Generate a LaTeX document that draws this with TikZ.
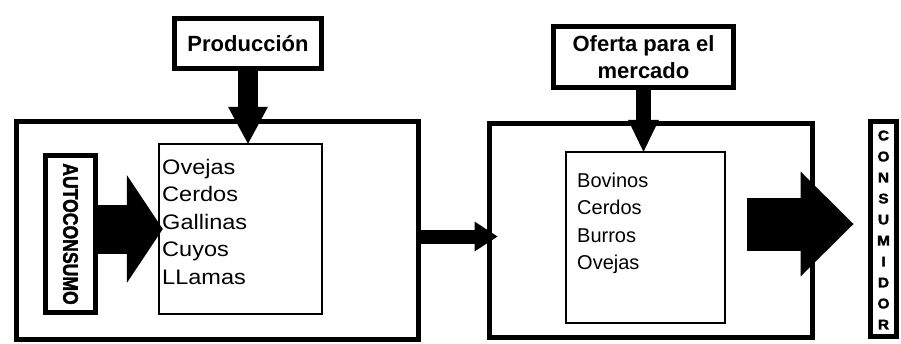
\documentclass[tikz,border=0pt]{standalone}
\usepackage{fontspec}
\setmainfont{Liberation Sans}
\newfontfamily\heavyfont[BoldFeatures={FakeBold=2}]{Liberation Sans}
\usetikzlibrary{arrows.meta, positioning, calc}

\begin{document}
\begin{tikzpicture}[x=1pt, y=-1pt,
    frame/.style={draw, line width=5pt, inner sep=0pt, outer sep=0pt},
    listbox/.style={draw, line width=1.6pt, inner sep=0pt, outer sep=0pt},
    item/.style={anchor=base west, inner sep=0pt, font=\fontsize{21}{25}\selectfont},
    title/.style={font=\fontsize{22}{27}\selectfont\bfseries, align=center, inner sep=0pt},
    stack/.style={font=\heavyfont\bfseries\fontsize{#1}{21}\selectfont, inner sep=0pt},
    fat/.style n args={3}{line width=#1, -{Triangle[length=#2, width=#3, line width=0pt]}}
]
    \useasboundingbox (0,0) rectangle (901,343);

    % Boxes
    \node[frame, minimum width=147, minimum height=50] (prod) at (248,43.5) {};
    \node[title] at (prod.center) {Producción};
    \node[frame, minimum width=402, minimum height=218] (boxA) at (217.5,230.5) {};
    \node[listbox, minimum width=163.4, minimum height=170.4] (list1) at (240.5,229) {};
    \node[frame, minimum width=50, minimum height=157] (auto) at (70.5,234) {};
    \node[stack=17.6, rotate=-90, yscale=1.2] at (auto.center) {AUTOCONSUMO};

    \node[frame, minimum width=180, minimum height=61] (oferta) at (643.5,57) {};
    \node[title] at (oferta.center) {Oferta para el\\mercado};
    \node[frame, minimum width=323, minimum height=214] (boxB) at (651,230.5) {};
    \node[listbox, minimum width=159.4, minimum height=171.4] (list2) at (645.5,237.5) {};
    \node[frame, minimum width=26, minimum height=215] (cons) at (883.5,229) {};
    \node[stack=14, align=center, xscale=1.1] at ([yshift=-1pt]cons.center)
        {C\\O\\N\\S\\U\\M\\I\\D\\O\\R};

    % Lists
    \foreach \txt [count=\i] in {Ovejas, Cerdos, Gallinas, Cuyos, LLamas}
        \node[item, xscale=1.12] (a\i) at (162, {174+27.5*(\i-1)}) {\txt};
    \foreach \txt [count=\i] in {Bovinos, Cerdos, Burros, Ovejas}
        \node[item, font=\fontsize{20}{25}\selectfont] (b\i) at (577, {187+27.5*(\i-1)}) {\txt};

    % Arrows
    \coordinate (out) at (747,224);
    \draw[fat={20pt}{37pt}{40pt}] (prod.south) -- (prod.south |- list1.north);
    \draw[fat={49pt}{36pt}{108pt}] (auto.east |- list1.west) -- ([xshift=4pt]list1.west);
    \draw[fat={14pt}{23pt}{30pt}] ([yshift=-6pt]boxA.east) -- ([xshift=8pt, yshift=-6pt]boxB.west);
    \draw[fat={15pt}{32pt}{31pt}] (oferta.south) -- (oferta.south |- list2.north);
    \draw[fat={53pt}{53pt}{105pt}, shorten >=17pt] (out) -- (out -| cons.west);
\end{tikzpicture}
\end{document}
